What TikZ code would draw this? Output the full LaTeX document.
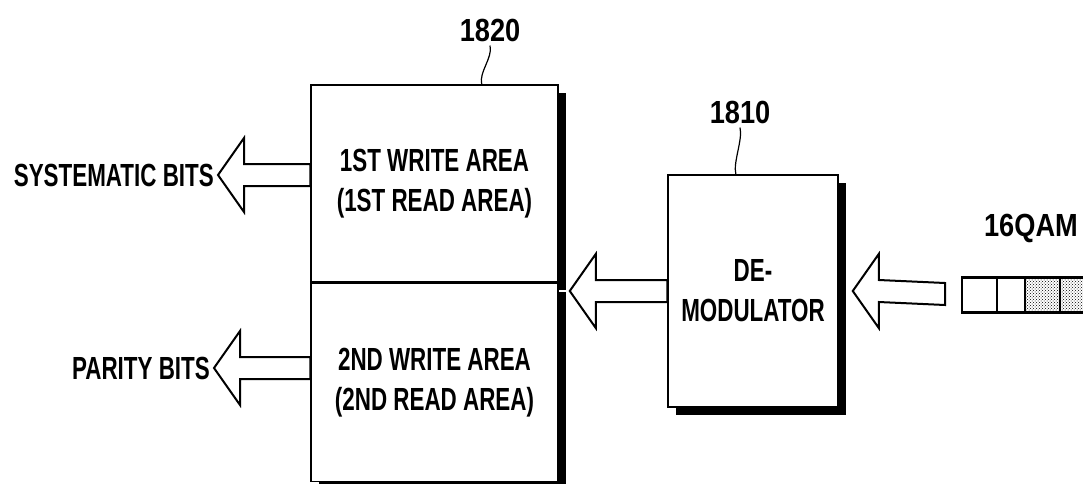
\documentclass[tikz,border=0pt]{standalone}
\usepackage{fontspec}
\setmainfont{Liberation Sans}[FakeStretch=0.7]
\newfontfamily\numfont{Liberation Sans}[FakeStretch=0.85]
\usetikzlibrary{positioning,calc,shadows,patterns}

\tikzset{
    lbl/.style={font=\bfseries\fontsize{32}{40}\selectfont, align=center, inner sep=4pt},
    numlbl/.style={font=\numfont\bfseries\fontsize{32}{40}\selectfont, inner sep=4pt},
    area/.style={draw, line width=1.5pt, fill=white, minimum width=247pt, minimum height=198pt,
        lbl, drop shadow={shadow xshift=8pt, shadow yshift=-8pt, opacity=1, fill=black}},
    blockline/.style={draw, line width=2pt, fill=white, line join=miter},
    cell/.style={draw, line width=2.5pt, minimum height=35pt, inner sep=0pt, outer sep=0pt},
    leader/.style={line width=1.2pt}
}

% hollow arrow pointing left: #1 tail, #2 tip
\newcommand{\blockarrow}[2]{%
    \draw[blockline] (#2) -- ++(26,-37) -- ++(0,26) -- ($(#1)+(0,-11)$)
        -- ($(#1)+(0,11)$) -- ($(#2)+(26,11)$) -- ++(0,26) -- cycle;}

\begin{document}
\begin{tikzpicture}[x=1pt, y=-1pt]
    \useasboundingbox (0,0) rectangle (1083,484);

    % Memory 1820
    \node[area, minimum height=197pt] (area1) at (434.5,183.5) {1ST WRITE AREA\\(1ST READ AREA)};
    \node[area, below=0pt of area1] (area2) {2ND WRITE AREA\\(2ND READ AREA)};
    \node[numlbl] (no1820) at (490,30) {1820};
    \coordinate (memtop) at ($(area1.north west)!0.69!(area1.north east)$);
    \draw[leader] (no1820.south) .. controls ++(3,12) and ++(-3,-12) .. (memtop);

    % Demodulator 1810
    \node[area, minimum width=170pt, minimum height=232pt] (demod) at (753,291) {DE-\\MODULATOR};
    \node[numlbl] (no1810) at (740,112) {1810};
    \coordinate (demodtop) at ($(demod.north west)!0.4!(demod.north east)$);
    \draw[leader] (no1810.south) .. controls ++(3,12) and ++(-3,-12) .. (demodtop);

    % 16QAM symbols
    \node[numlbl, anchor=east] (qam) at (1082,228) {16QAM};
    \node[cell, minimum width=35pt] (c1) at (979.5,295) {};
    \node[cell, minimum width=28pt, right=0pt of c1] (c2) {};
    \node[cell, minimum width=35pt, right=0pt of c2, pattern=crosshatch dots] (c3) {};
    \node[cell, minimum width=35pt, right=0pt of c3, pattern=crosshatch dots] (c4) {};
    \coordinate (qamtail) at (945,294);

    % Outputs
    \node[lbl, anchor=east] (sys) at (218,175) {SYSTEMATIC BITS};
    \node[lbl, anchor=east] (par) at (214,368) {PARITY BITS};

    % Arrows
    \blockarrow{qamtail}{$(demod.east |- qamtail)+(14,-3)$}
    \blockarrow{demod.west}{$(area1.south east |- demod.west)+(11,0)$}
    \blockarrow{area1.west |- sys.east}{sys.east}
    \blockarrow{area2.west |- par.east}{par.east}

\end{tikzpicture}
\end{document}
